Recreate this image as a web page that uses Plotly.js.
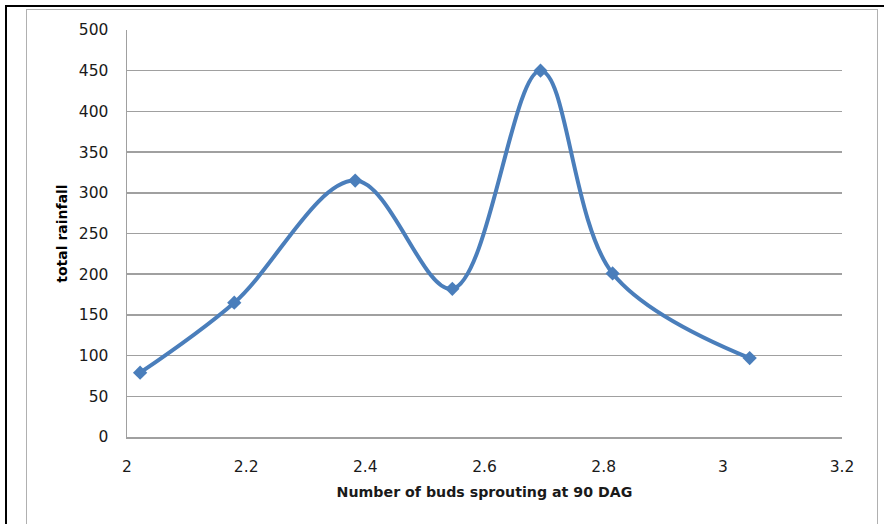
<!DOCTYPE html>
<html>
<head>
<meta charset="utf-8">
<script src="https://cdn.plot.ly/plotly-3.0.1.min.js"></script>
<style>
html,body{margin:0;padding:0;background:#fff;}
#wrap{position:relative;width:884px;height:524px;overflow:hidden;}
#blackframe{position:absolute;left:5px;top:5px;width:900px;height:600px;border-top:2px solid #000;border-left:2px solid #000;}
#greyframe{position:absolute;left:26px;top:9px;width:850px;height:600px;border:1px solid #b0b0b0;border-bottom:none;}
#chart{position:absolute;left:0;top:0;width:884px;height:524px;}
</style>
</head>
<body>
<div id="wrap">
<div id="blackframe"></div>
<div id="greyframe"></div>
<div id="chart"></div>
</div>
<script>
const budsSprouting = [2.022, 2.18, 2.383, 2.546, 2.694, 2.815, 3.045];
const totalRainfall = [79, 165, 315, 182, 450, 201, 97];
const xTicks = [2, 2.2, 2.4, 2.6, 2.8, 3, 3.2];
const xTickLabels = ['2', '2.2', '2.4', '2.6', '2.8', '3', '3.2'];
const yTicks = [0, 50, 100, 150, 200, 250, 300, 350, 400, 450, 500];

const trace = {
  x: budsSprouting,
  y: totalRainfall,
  type: 'scatter',
  mode: 'lines+markers',
  line: {color: '#4a7ebb', width: 4, shape: 'spline', smoothing: 1},
  marker: {symbol: 'diamond', size: 11, color: '#4a7ebb'},
  hoverinfo: 'skip'
};

const tickFont = {family: 'DejaVu Sans', size: 15.5, color: '#1a1a1a'};

const layout = {
  width: 884, height: 524, autosize: false,
  paper_bgcolor: 'rgba(0,0,0,0)', plot_bgcolor: 'rgba(0,0,0,0)',
  margin: {l: 127, r: 42, t: 30, b: 87, pad: 0},
  showlegend: false,
  xaxis: {
    range: [2, 3.2], tickvals: xTicks, ticktext: xTickLabels,
    showgrid: false, zeroline: false, showline: true, linecolor: '#a0a0a0', linewidth: 1.5,
    ticks: '', tickfont: tickFont, ticklabelstandoff: 15,
    title: {text: 'Number of buds sprouting at 90 DAG', font: {family: 'DejaVu Sans', size: 14.2, color: '#1a1a1a', weight: 'bold'}, standoff: 12}
  },
  yaxis: {
    range: [0, 500], tickvals: yTicks,
    showgrid: true, gridcolor: '#a0a0a0', gridwidth: 1.5, zeroline: false,
    showline: true, linecolor: '#a0a0a0', linewidth: 1.5,
    ticks: '', tickfont: tickFont, ticklabelstandoff: 14,
    title: {text: 'total rainfall', font: {family: 'DejaVu Sans', size: 14, color: '#000', weight: 'bold'}, standoff: 8}
  }
};

Plotly.newPlot('chart', [trace], layout, {staticPlot: true, displayModeBar: false});
</script>
</body>
</html>
